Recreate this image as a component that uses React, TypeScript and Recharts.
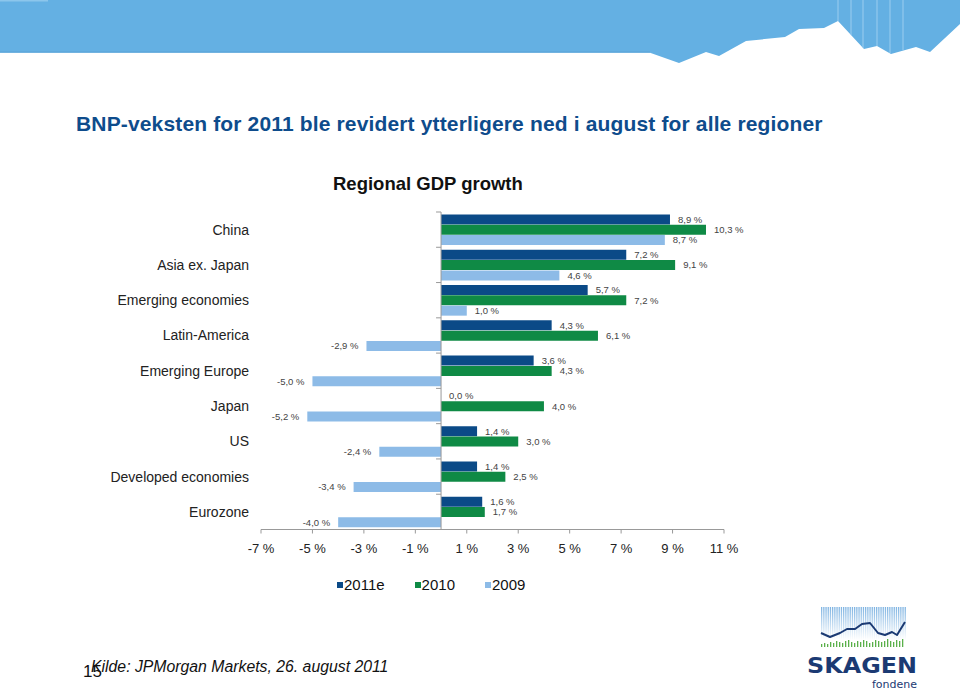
import React from "react";
import {
  BarChart,
  Bar,
  XAxis,
  YAxis,
  ReferenceLine,
  LabelList,
  Legend,
} from "recharts";

const categories = [
  "China",
  "Asia ex. Japan",
  "Emerging economies",
  "Latin-America",
  "Emerging Europe",
  "Japan",
  "US",
  "Developed economies",
  "Eurozone",
];
const growth2011e = [8.9, 7.2, 5.7, 4.3, 3.6, 0.0, 1.4, 1.4, 1.6];
const growth2010 = [10.3, 9.1, 7.2, 6.1, 4.3, 4.0, 3.0, 2.5, 1.7];
const growth2009 = [8.7, 4.6, 1.0, -2.9, -5.0, -5.2, -2.4, -3.4, -4.0];
const xTicks = [-7, -5, -3, -1, 1, 3, 5, 7, 9, 11];
const seriesKeys = ["y2011e", "y2010", "y2009"];
const seriesNames = ["2011e", "2010", "2009"];
const seriesColors = ["#0b4a87", "#0f8a45", "#8dbbe7"];

const data = categories.map((region, i) => ({
  region,
  y2011e: growth2011e[i],
  y2010: growth2010[i],
  y2009: growth2009[i],
}));

const FONT = "'Liberation Sans', Arial, Helvetica, sans-serif";
const W = 960;
const H = 692;
const PLOT_LEFT = 261;
const PLOT_RIGHT = 724;
const PLOT_TOP = 212;
const PLOT_BOTTOM = 529.5;
const YAXIS_W = 250;
const XAXIS_H = 30;
const X_MIN = -7;
const X_MAX = 11;
const ZERO_X =
  PLOT_LEFT + ((0 - X_MIN) / (X_MAX - X_MIN)) * (PLOT_RIGHT - PLOT_LEFT);
const BAND = (PLOT_BOTTOM - PLOT_TOP) / categories.length;

const fmt = (v: number) => `${v.toFixed(1).replace(".", ",")} %`;

function CategoryTick(props: any) {
  const { x, y, payload, index } = props;
  return (
    <g>
      <text
        x={x}
        y={y}
        dy="0.355em"
        textAnchor="end"
        fontSize={14}
        fill="#222"
        fontFamily={FONT}
      >
        {payload.value}
      </text>
      <line
        x1={ZERO_X - 5}
        x2={ZERO_X}
        y1={y - BAND / 2}
        y2={y - BAND / 2}
        stroke="#999"
      />
      {index === categories.length - 1 && (
        <line
          x1={ZERO_X - 5}
          x2={ZERO_X}
          y1={y + BAND / 2}
          y2={y + BAND / 2}
          stroke="#999"
        />
      )}
    </g>
  );
}

function LegendContent() {
  return (
    <div style={{ display: "flex", fontFamily: FONT, fontSize: 15, color: "#111" }}>
      {seriesNames.map((n, i) => (
        <span
          key={n}
          style={{ display: "flex", alignItems: "center", marginRight: 30 }}
        >
          <span
            style={{
              width: 6,
              height: 6,
              background: seriesColors[i],
              marginRight: 1,
              display: "inline-block",
            }}
          />
          {n}
        </span>
      ))}
    </div>
  );
}

function Header() {
  const pts =
    "0,0 960,0 960,24 930,52 916,47 891,54 877,46 864,49 838,21 824,28 799,29 785,37 746,41 719,56 706,52 679,63 650,52.7 0,52.7";
  const stripes: [number, number][] = [
    [838, 21],
    [851, 35],
    [863, 48],
    [877, 46],
    [890, 53],
    [903, 50],
  ];
  return (
    <svg
      width={W}
      height={70}
      style={{ position: "absolute", left: 0, top: 0 }}
    >
      <polygon points={pts} fill="#64b0e3" />
      <line x1={0} x2={650} y1={52} y2={52} stroke="#5aa3d6" strokeWidth={1} />
      <rect x={0} y={0} width={48} height={1.5} fill="#8cc6ec" />
      {stripes.map(([sx, sy]) => (
        <line
          key={sx}
          x1={sx}
          x2={sx}
          y1={0}
          y2={sy}
          stroke="#a9d6f2"
          strokeWidth={0.8}
        />
      ))}
    </svg>
  );
}

function Logo() {
  const stripeXs: number[] = [];
  for (let x = 821; x <= 905; x += 2.2) stripeXs.push(x);
  const line =
    "821,633 830,637 840,633 847,629 855,629 862,624 870,623 878,633 885,635 892,632 897,635 905,622";
  const greens = [
    3, 4, 3, 5, 4, 6, 5, 4, 6, 7, 5, 4, 6, 5, 7, 6, 4, 5, 7, 6, 5, 6, 8, 6, 5, 7, 6, 8,
  ];
  return (
    <svg
      width={140}
      height={92}
      viewBox="800 600 140 92"
      style={{ position: "absolute", left: 800, top: 600 }}
    >
      <defs>
        <linearGradient id="sk" x1="0" y1="0" x2="0" y2="1">
          <stop offset="0" stopColor="#7fb4e2" />
          <stop offset="1" stopColor="#ffffff" />
        </linearGradient>
      </defs>
      {stripeXs.map((x) => (
        <rect key={x} x={x} y={607} width={1.3} height={33} fill="url(#sk)" />
      ))}
      {greens.map((g, i) => (
        <rect
          key={i}
          x={821 + i * 3}
          y={647 - g}
          width={1.3}
          height={g}
          fill="#5ab04a"
        />
      ))}
      <polyline
        points={line}
        fill="none"
        stroke="#1b3a73"
        strokeWidth={2}
        strokeLinejoin="round"
      />
      <text
        x={862}
        y={673}
        textAnchor="middle"
        fontFamily="'DejaVu Sans', sans-serif"
        fontWeight="bold"
        fontSize={22}
        fill="#1b3a73"
        textLength={110}
        lengthAdjust="spacingAndGlyphs"
      >
        SKAGEN
      </text>
      <text
        x={917}
        y={688}
        textAnchor="end"
        fontFamily="'DejaVu Sans', sans-serif"
        fontSize={11}
        fill="#1b3a73"
      >
        fondene
      </text>
    </svg>
  );
}

export default function App() {
  return (
    <div
      style={{
        position: "relative",
        width: W,
        height: H,
        background: "#fff",
        overflow: "hidden",
        fontFamily: FONT,
      }}
    >
      <style>{`body{margin:0}`}</style>
      <Header />
      <div
        style={{
          position: "absolute",
          left: 76,
          top: 113,
          fontSize: 21,
          letterSpacing: 0.15,
          lineHeight: 1,
          fontWeight: "bold",
          color: "#0e4c8c",
          whiteSpace: "nowrap",
        }}
      >
        BNP-veksten for 2011 ble revidert ytterligere ned i august for alle
        regioner
      </div>
      <div
        style={{
          position: "absolute",
          left: 333,
          top: 174.5,
          fontSize: 18.5,
          lineHeight: 1,
          fontWeight: "bold",
          color: "#111",
          whiteSpace: "nowrap",
        }}
      >
        Regional GDP growth
      </div>
      <div style={{ position: "absolute", left: 0, top: 0 }}>
        <BarChart
          width={W}
          height={H}
          data={data}
          layout="vertical"
          margin={{
            top: PLOT_TOP,
            right: W - PLOT_RIGHT,
            left: PLOT_LEFT - YAXIS_W,
            bottom: H - PLOT_BOTTOM - XAXIS_H,
          }}
          barCategoryGap={2.5}
          barGap={0.3}
        >
          <XAxis
            type="number"
            domain={[X_MIN, X_MAX]}
            ticks={xTicks}
            allowDataOverflow
            height={XAXIS_H}
            tickFormatter={(v: number) => `${v} %`}
            tick={{ fontSize: 13, fill: "#222", fontFamily: FONT }}
            axisLine={{ stroke: "#999" }}
            tickLine={{ stroke: "#999" }}
            tickSize={4}
            tickMargin={10}
          />
          <YAxis
            type="category"
            dataKey="region"
            width={YAXIS_W}
            axisLine={false}
            tickLine={false}
            tickSize={6}
            tickMargin={6}
            interval={0}
            tick={<CategoryTick />}
          />
          {seriesKeys.map((k, i) => (
            <Bar
              key={k}
              dataKey={k}
              name={seriesNames[i]}
              fill={seriesColors[i]}
              minPointSize={(v: any) => (Number(v) === 0 ? 0.01 : 0)}
              isAnimationActive={false}
            >
              <LabelList
                dataKey={k}
                position="right"
                offset={8}
                formatter={(v: any) => fmt(Number(v))}
                style={{ fontSize: 9.5, fill: "#444", fontFamily: FONT }}
              />
            </Bar>
          ))}
          <ReferenceLine x={0} stroke="#999" />
          <Legend
            layout="horizontal"
            verticalAlign="middle"
            align="center"
            content={<LegendContent />}
            wrapperStyle={{ top: 576, left: 337, width: "auto" }}
          />
        </BarChart>
      </div>
      <div
        style={{
          position: "absolute",
          left: 83,
          top: 663,
          fontSize: 17,
          lineHeight: 1,
          color: "#111",
        }}
      >
        15
      </div>
      <div
        style={{
          position: "absolute",
          left: 91,
          top: 659,
          fontSize: 15.8,
          lineHeight: 1,
          fontStyle: "italic",
          color: "#111",
          whiteSpace: "nowrap",
        }}
      >
        Kilde: JPMorgan Markets, 26. august 2011
      </div>
      <Logo />
    </div>
  );
}
